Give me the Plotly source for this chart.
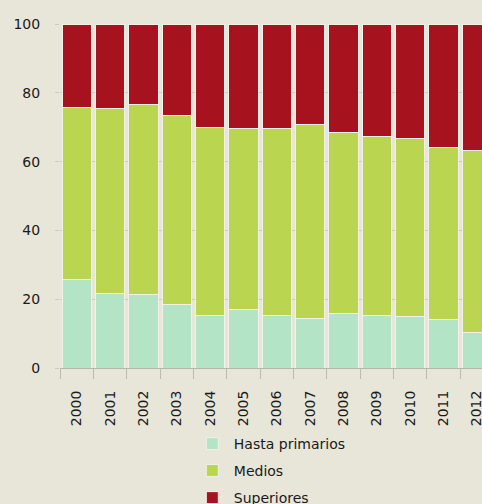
import plotly.graph_objects as go

years = ["2000", "2001", "2002", "2003", "2004", "2005", "2006",
         "2007", "2008", "2009", "2010", "2011", "2012"]
hasta_primarios = [25.8, 21.7, 21.5, 18.6, 15.4, 16.9, 15.3, 14.3, 15.7, 15.4, 15.0, 14.2, 10.2]
medios = [49.9, 53.8, 55.0, 54.9, 54.5, 52.7, 54.2, 56.5, 52.9, 51.8, 51.6, 49.8, 52.9]
superiores = [24.3, 24.5, 23.5, 26.5, 30.1, 30.4, 30.5, 29.2, 31.4, 32.8, 33.4, 36.0, 36.9]

names = ["Hasta primarios", "Medios", "Superiores"]
colors = ["#b3e4c6", "#bad651", "#a6131f"]
series = [hasta_primarios, medios, superiores]
legend_ids = ["legend", "legend2", "legend3"]

BG = "#e8e5d9"
FONT = "DejaVu Sans"

fig = go.Figure()
for n, c, v, lg in zip(names, colors, series, legend_ids):
    fig.add_trace(go.Bar(
        x=years, y=v, name=n, legend=lg,
        marker=dict(color=c, line=dict(color="#f2f0e8", width=1)),
    ))

legend_style = dict(
    orientation="v", x=0.31, xanchor="left", yanchor="middle",
    font=dict(family=FONT, size=14, color="#1a1a1a"),
    bgcolor="rgba(0,0,0,0)", itemwidth=33,
)

fig.update_layout(
    width=482, height=504,
    barmode="stack", bargap=0.12,
    paper_bgcolor=BG, plot_bgcolor=BG,
    margin=dict(l=60, r=0, t=24, b=136, autoexpand=False),
    font=dict(family=FONT, color="#1a1a1a", size=14),
    showlegend=True,
    legend=dict(legend_style, y=-0.221),
    legend2=dict(legend_style, y=-0.299),
    legend3=dict(legend_style, y=-0.378),
    xaxis=dict(
        range=[-0.5, 12.16], tickangle=-90, tickson="boundaries",
        ticks="outside", ticklen=10, tickcolor="#bdbab2", tickwidth=1,
        ticklabelstandoff=16,
        showline=True, linecolor="#b8b5ad", linewidth=1,
        showgrid=False, tickfont=dict(size=14, family=FONT),
        fixedrange=True,
    ),
    yaxis=dict(
        range=[0, 100], tickvals=[0, 20, 40, 60, 80, 100],
        showgrid=True, gridcolor="#cdcac1", gridwidth=1,
        zeroline=False, ticks="outside", ticklen=4, tickcolor="#cdcac1",
        ticklabelstandoff=12,
        tickfont=dict(size=14, family=FONT), showline=False,
        fixedrange=True,
    ),
)

fig.write_html(
    "out.html",
    config={"displayModeBar": False},
    post_script="document.body.style.margin='0';document.body.style.overflow='hidden';",
)
